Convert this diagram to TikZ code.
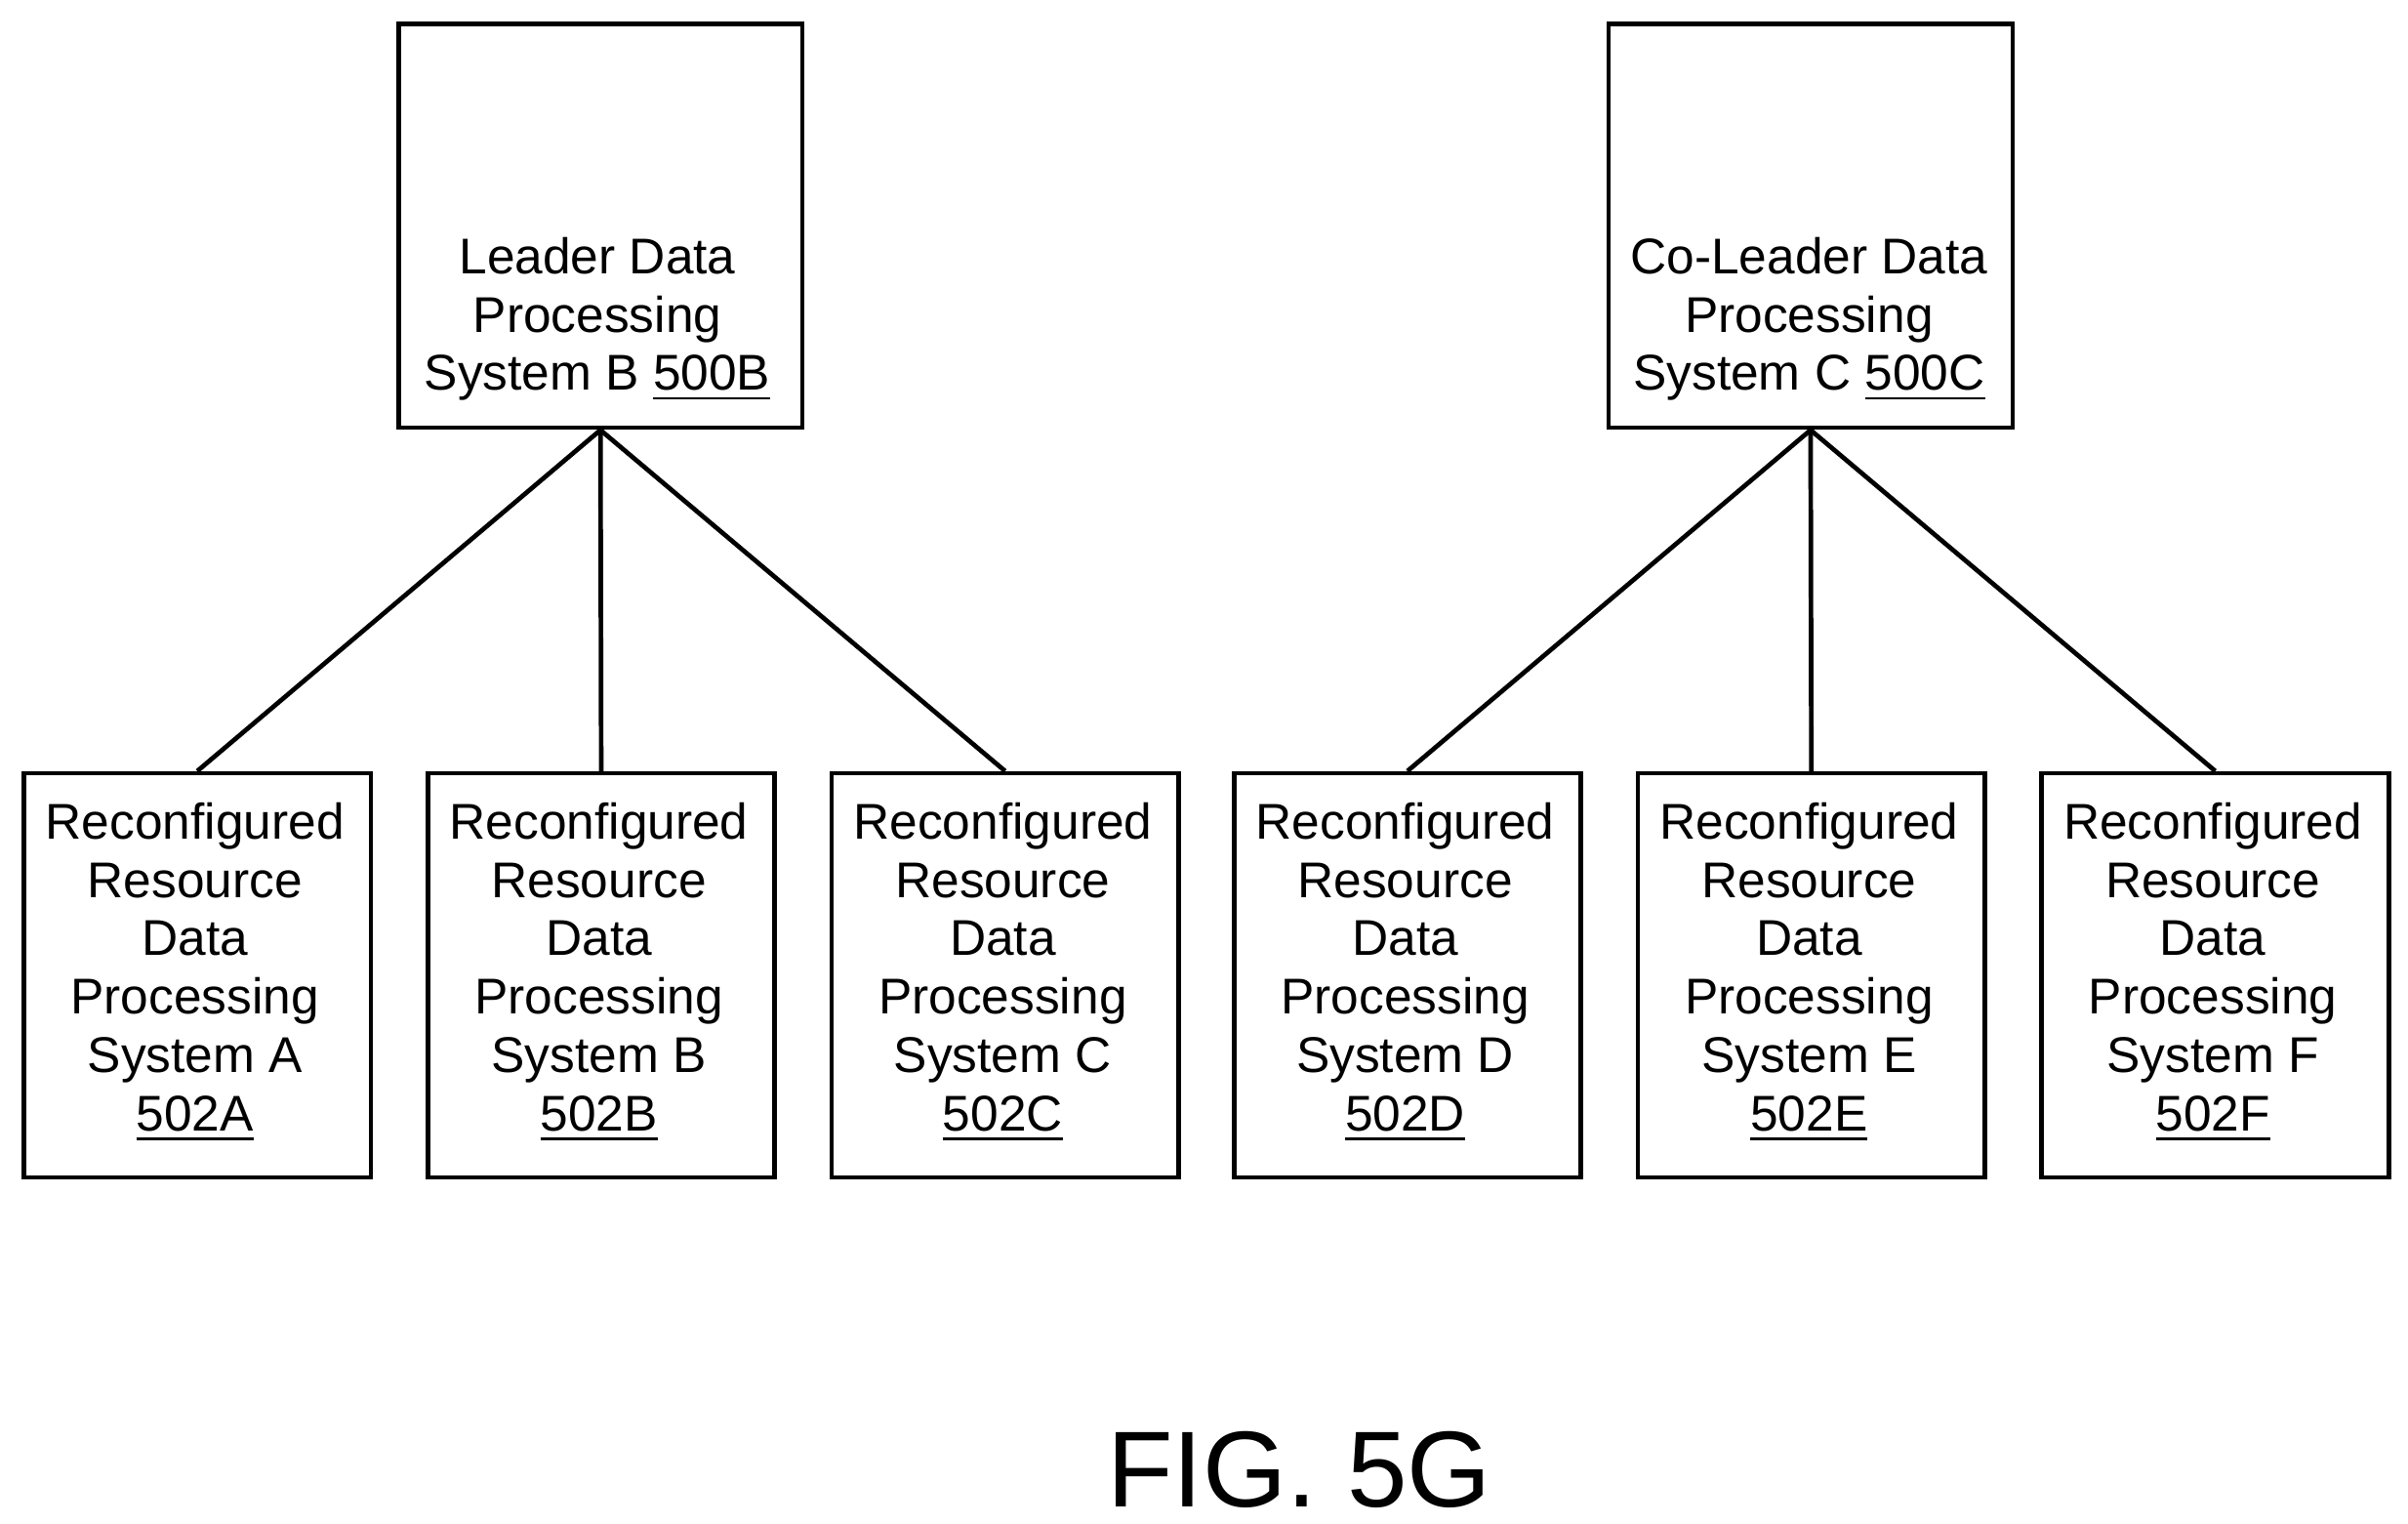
\documentclass[tikz,border=0pt]{standalone}
\usepackage{fontspec}
\setmainfont{Liberation Sans}
\begin{document}
\begin{tikzpicture}[x=0.01cm,y=-0.01cm,
  box/.style={draw,line width=0.85pt,minimum width=226*0.01cm,minimum height=263*0.01cm,inner sep=0pt,anchor=north west},
  top/.style={draw,line width=0.85pt,minimum width=263*0.01cm,minimum height=263*0.01cm,inner sep=0pt,anchor=north west},
  txt/.style={align=center,font=\fontsize{9.3pt}{10.8pt}\selectfont},
  conn/.style={line width=0.85pt}]
\useasboundingbox (0,0) rectangle (1568,992);
\node[top] (L) at (258,14) {};
\node[top] (C) at (1046,14) {};
\node[txt] at (389,208) {Leader Data\\Processing\\System B \underline{500B}};
\node[txt] at (1178,208) {Co-Leader Data\\Processing\\System C \underline{500C}};
\foreach \n/\x/\l in {A/14/A,B/277/B,C/540/C,D/802/D,E/1065/E,F/1328/F}{
  \node[box] (b\n) at (\x,502) {};
  \node[txt] at (\x+113,633) {Reconfigured\\Resource\\Data\\Processing\\System \l\\\underline{502\l}};
}
\foreach \n in {A,B,C} \draw[conn] (L.south) -- (b\n.north);
\foreach \n in {D,E,F} \draw[conn] (C.south) -- (b\n.north);
\node[font=\fontsize{20pt}{24pt}\selectfont] (fig) at (846,957) {FIG. 5G};
\end{tikzpicture}
\end{document}
